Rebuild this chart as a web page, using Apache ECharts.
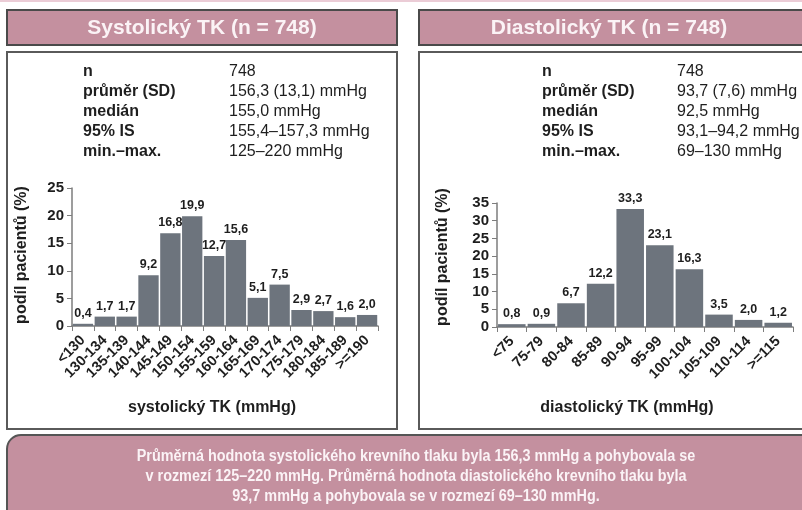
<!DOCTYPE html>
<html>
<head>
<meta charset="utf-8">
<script src="https://cdn.jsdelivr.net/npm/echarts@6/dist/echarts.min.js"></script>
<style>
  html, body { margin: 0; padding: 0; background: #ffffff; }
  #chart { width: 802px; height: 510px; }
</style>
</head>
<body>
<div id="chart"></div>
<script>
// Systolic blood pressure distribution (share of patients, %)
const sysCategories = ['<130', '130-134', '135-139', '140-144', '145-149', '150-154', '155-159',
  '160-164', '165-169', '170-174', '175-179', '180-184', '185-189', '>=190'];
const sysValues = [0.4, 1.7, 1.7, 9.2, 16.8, 19.9, 12.7, 15.6, 5.1, 7.5, 2.9, 2.7, 1.6, 2.0];

// Diastolic blood pressure distribution (share of patients, %)
const diaCategories = ['<75', '75-79', '80-84', '85-89', '90-94', '95-99', '100-104',
  '105-109', '110-114', '>=115'];
const diaValues = [0.8, 0.9, 6.7, 12.2, 33.3, 23.1, 16.3, 3.5, 2.0, 1.2];

// Summary statistics shown above each histogram
const statLabels = ['n', 'průměr (SD)', 'medián', '95% IS', 'min.–max.'];
const sysStats = ['748', '156,3 (13,1) mmHg', '155,0 mmHg', '155,4–157,3 mmHg', '125–220 mmHg'];
const diaStats = ['748', '93,7 (7,6) mmHg', '92,5 mmHg', '93,1–94,2 mmHg', '69–130 mmHg'];

const sysTitle = 'Systolický TK (n = 748)';
const diaTitle = 'Diastolický TK (n = 748)';
const yName = 'podíl pacientů (%)';
const sysXName = 'systolický TK (mmHg)';
const diaXName = 'diastolický TK (mmHg)';
const summaryLines = [
  'Průměrná hodnota systolického krevního tlaku byla 156,3 mmHg a pohybovala se',
  'v rozmezí 125–220 mmHg. Průměrná hodnota diastolického krevního tlaku byla',
  '93,7 mmHg a pohybovala se v rozmezí 69–130 mmHg.'
];

const FONT = '"Liberation Sans", Arial, sans-serif';
const PINK = '#c4909f';
const BAR = '#6d747d';
const AXIS = '#7d7d7d';
const TXT = '#1e1e1e';
const LIGHT = '#fbf3f6';

const fmt = v => v.toFixed(1).replace('.', ',');

function statsBlock(x1, x2, values) {
  const out = [];
  statLabels.forEach((lab, i) => {
    const y = 72 + i * 20;
    out.push({ type: 'text', x: x1, y: y, style: { text: lab, font: 'bold 16px ' + FONT, fill: TXT, textVerticalAlign: 'middle' } });
    out.push({ type: 'text', x: x2, y: y, style: { text: values[i], font: '16px ' + FONT, fill: TXT, textVerticalAlign: 'middle' } });
  });
  return out;
}

const graphics = [
  { type: 'rect', shape: { x: 0, y: 0, width: 802, height: 2 }, style: { fill: '#ebccd6' } },
  // headers
  { type: 'rect', shape: { x: 7, y: 10, width: 390, height: 35 }, style: { fill: PINK, stroke: '#4a4a4a', lineWidth: 2 } },
  { type: 'rect', shape: { x: 419, y: 10, width: 400, height: 35 }, style: { fill: PINK, stroke: '#4a4a4a', lineWidth: 2 } },
  { type: 'text', x: 202, y: 28, style: { text: sysTitle, font: 'bold 21px ' + FONT, fill: LIGHT, textAlign: 'center', textVerticalAlign: 'middle' } },
  { type: 'text', x: 609, y: 28, style: { text: diaTitle, font: 'bold 21px ' + FONT, fill: LIGHT, textAlign: 'center', textVerticalAlign: 'middle' } },
  // panels
  { type: 'rect', shape: { x: 7, y: 52, width: 390, height: 377 }, style: { fill: 'none', stroke: '#5a5a5a', lineWidth: 2 } },
  { type: 'rect', shape: { x: 419, y: 52, width: 400, height: 377 }, style: { fill: 'none', stroke: '#5a5a5a', lineWidth: 2 } },
  // axis names
  { type: 'text', x: 22, y: 255, rotation: Math.PI / 2, style: { text: yName, font: 'bold 16px ' + FONT, fill: TXT, textAlign: 'center', textVerticalAlign: 'middle' } },
  { type: 'text', x: 443, y: 257, rotation: Math.PI / 2, style: { text: yName, font: 'bold 16px ' + FONT, fill: TXT, textAlign: 'center', textVerticalAlign: 'middle' } },
  { type: 'text', x: 212, y: 408, style: { text: sysXName, font: 'bold 16px ' + FONT, fill: TXT, textAlign: 'center', textVerticalAlign: 'middle' } },
  { type: 'text', x: 627, y: 408, style: { text: diaXName, font: 'bold 16px ' + FONT, fill: TXT, textAlign: 'center', textVerticalAlign: 'middle' } },
  // summary box
  { type: 'rect', shape: { x: 7, y: 435, width: 812, height: 90, r: 14 }, style: { fill: PINK, stroke: '#555555', lineWidth: 2 } }
].concat(statsBlock(83, 229, sysStats), statsBlock(542, 677, diaStats));

// condensed bold summary lines
summaryLines.forEach((line, i) => {
  graphics.push({ type: 'text', x: 416, y: 457 + i * 20, scaleX: 0.9, style: { text: line, font: 'bold 16px ' + FONT, fill: LIGHT, textAlign: 'center', textVerticalAlign: 'middle' } });
});

function catAxis(gridIndex, cats) {
  return {
    type: 'category', gridIndex, data: cats,
    axisLine: { lineStyle: { color: AXIS, width: 1.5 } },
    axisTick: { show: true, alignWithLabel: false, length: 5, lineStyle: { color: AXIS } },
    axisLabel: { rotate: 45, interval: 0, margin: 12, color: TXT, fontWeight: 'bold', fontSize: 14.5, fontFamily: FONT }
  };
}
function valAxis(gridIndex, max) {
  return {
    type: 'value', gridIndex, min: 0, max, interval: 5,
    splitLine: { show: false },
    axisLine: { show: true, lineStyle: { color: AXIS, width: 1.5 } },
    axisTick: { show: true, length: 5, lineStyle: { color: AXIS } },
    axisLabel: { margin: 8, color: TXT, fontWeight: 'bold', fontSize: 15, fontFamily: FONT }
  };
}
function barSeries(idx, values) {
  return {
    type: 'bar', xAxisIndex: idx, yAxisIndex: idx, data: values,
    barCategoryGap: '7%',
    itemStyle: { color: BAR },
    label: { show: true, position: 'top', distance: 4, formatter: p => fmt(p.value), color: TXT, fontWeight: 'bold', fontSize: 12.5, fontFamily: FONT },
    animation: false
  };
}

const chart = echarts.init(document.getElementById('chart'), null, { renderer: 'canvas' });
chart.setOption({
  animation: false,
  backgroundColor: '#ffffff',
  grid: [
    { left: 72, width: 306, top: 188, height: 138 },
    { left: 497, width: 296, top: 203, height: 124 }
  ],
  xAxis: [catAxis(0, sysCategories), catAxis(1, diaCategories)],
  yAxis: [valAxis(0, 25), valAxis(1, 35)],
  series: [barSeries(0, sysValues), barSeries(1, diaValues)],
  graphic: { elements: graphics }
});
</script>
</body>
</html>
